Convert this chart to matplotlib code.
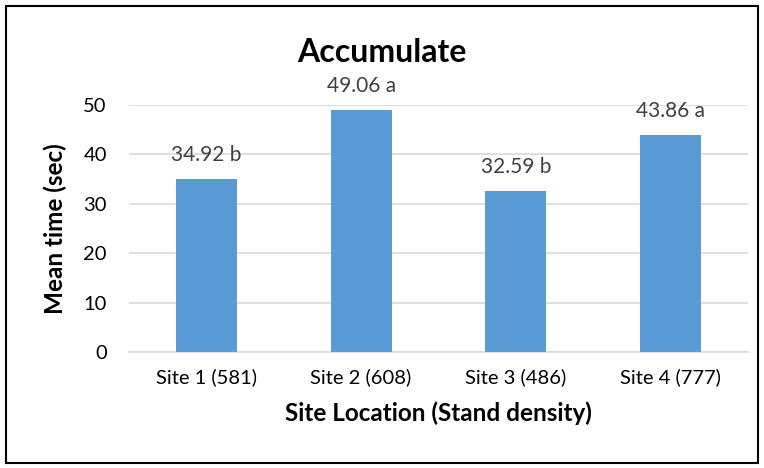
import matplotlib.pyplot as plt
from matplotlib.patches import Rectangle

sites = ['Site 1 (581)', 'Site 2 (608)', 'Site 3 (486)', 'Site 4 (777)']
means = [34.92, 49.06, 32.59, 43.86]
groups = ['b', 'a', 'b', 'a']

plt.rcParams['font.family'] = ['Lato', 'DejaVu Sans']

fig = plt.figure(figsize=(7.64, 4.68), dpi=100)
# plot area: x 129..748 px, y 105..352 px
ax = fig.add_axes([129 / 764, 1 - 352 / 468, 619 / 764, 247 / 468])

x = range(len(sites))
ax.bar(x, means, width=0.395, color='#5b9bd5', zorder=3)

# value labels with significance letters
for i, (m, g) in enumerate(zip(means, groups)):
    ax.annotate(f'{m:.2f} {g}', (i, m), xytext=(0, 13), textcoords='offset points',
                ha='center', va='baseline', fontsize=15, color='#404040',
                annotation_clip=False)

ax.set_ylim(0, 50)
ax.set_xlim(-0.5, 3.5)
ax.set_yticks([0, 10, 20, 30, 40, 50])
ax.set_xticks(list(x))
ax.set_xticklabels(sites, fontsize=14.5)
ax.tick_params(axis='y', labelsize=14.5, length=0, pad=16)
ax.tick_params(axis='x', length=0, pad=12)
ax.grid(axis='y', color='#d9d9d9', linewidth=1.2, zorder=0)
for s in ['top', 'right', 'left']:
    ax.spines[s].set_visible(False)
ax.spines['bottom'].set_color('#d9d9d9')
ax.spines['bottom'].set_linewidth(1.2)

ax.set_ylabel('Mean time (sec)', fontsize=17.5, fontweight='bold')
ax.set_xlabel('Site Location (Stand density)', fontsize=17.5, fontweight='bold')
ax.yaxis.set_label_coords((55 - 129) / 619, 0.5)
ax.yaxis.label.set_va('center')
ax.xaxis.set_label_coords(0.5, (352 - 413) / 247)
ax.xaxis.label.set_va('center')

fig.text(0.5, 1 - 52 / 468, 'Accumulate', ha='center', va='center',
         fontsize=23, fontweight='bold')

# outer border
fig.patches.append(Rectangle((0.008, 0.01), 0.984, 0.978, transform=fig.transFigure,
                             fill=False, edgecolor='black', linewidth=1.5))

fig.savefig('out.png', dpi=100)
